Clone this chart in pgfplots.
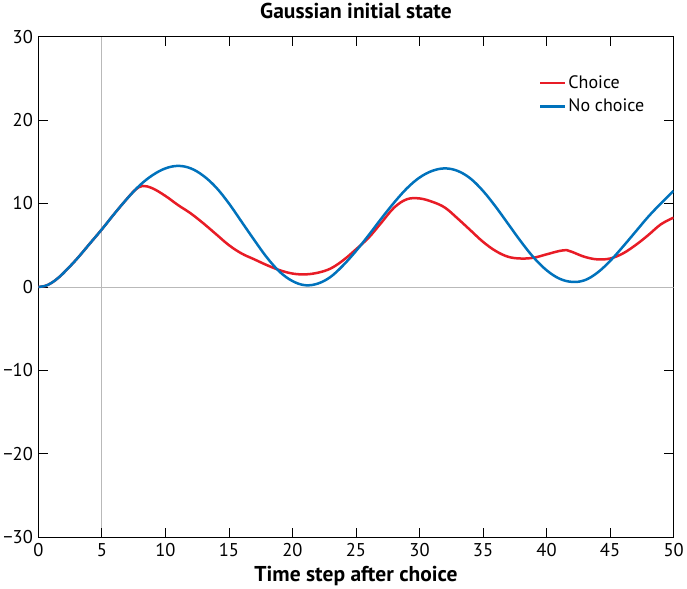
\documentclass[border=0pt]{standalone}
\usepackage{pgfplots}
\pgfplotsset{compat=1.18}
\usepackage{fontspec}
\setmainfont{PT Sans}
\definecolor{chred}{RGB}{232,28,38}
\definecolor{chblue}{RGB}{0,114,188}
\begin{document}
\begin{tikzpicture}
\begin{axis}[
  scale only axis,
  width=633bp,
  height=499bp,
  xmin=0, xmax=50,
  ymin=-30, ymax=30,
  xtick={0,5,...,50},
  ytick={-30,-20,-10,0,10,20,30},
  yticklabels={−30,−20,−10,0,10,20,30},
  xtick pos=both,
  ytick pos=both,
  tick align=inside,
  major tick length=9.5bp,
  tick style={draw=black, line width=0.8pt},
  axis line style={line width=0.9pt},
  ticklabel style={font=\fontsize{18.5}{20}\selectfont},
  /pgf/number format/assume math mode=true,
  xticklabel style={yshift=-3bp},
  yticklabel style={xshift=-2bp},
  title={\bfseries Gaussian initial state},
  title style={font=\fontsize{21.5}{23}\selectfont, yshift=8bp},
  xlabel={\bfseries Time step after choice},
  xlabel style={font=\fontsize{21.5}{23}\selectfont, yshift=-2bp},
  legend style={draw=none, fill=none, at={(0.962,0.93)}, anchor=north east,
    font=\fontsize{18}{20}\selectfont, row sep=5bp},
  legend cell align=left,
  legend image code/.code={\draw[#1] (-10bp,0bp) -- (15bp,0bp);},
  unbounded coords=jump,
]
  % reference lines
  \addplot[gray!55, line width=0.8pt, forget plot] coordinates {(0,0) (50,0)};
  \addplot[gray!55, line width=0.8pt, forget plot] coordinates {(5,-30) (5,30)};

  % tick marks on the bottom and left edges (inside)
  \addplot[black, line width=0.8pt, forget plot] coordinates {
    (5,-30) (5,-28.86) (nan,nan) (10,-30) (10,-28.86) (nan,nan)
    (15,-30) (15,-28.86) (nan,nan) (20,-30) (20,-28.86) (nan,nan)
    (25,-30) (25,-28.86) (nan,nan) (30,-30) (30,-28.86) (nan,nan)
    (35,-30) (35,-28.86) (nan,nan) (40,-30) (40,-28.86) (nan,nan)
    (45,-30) (45,-28.86) (nan,nan)
    (0,-20) (0.75,-20) (nan,nan) (0,-10) (0.75,-10) (nan,nan)
    (0,0) (0.75,0) (nan,nan) (0,10) (0.75,10) (nan,nan)
    (0,20) (0.75,20)
  };

  \addplot[chred, line width=2.5pt, smooth, tension=0.6] coordinates {
    (0,0) (0.5,0.1) (1,0.45) (1.5,1.0) (2,1.7) (3,3.3) (4,5.1) (5,6.9)
    (6,8.8) (7,10.6) (7.6,11.6) (8.2,12.1) (9,11.8) (10,10.9) (11,9.8)
    (12,8.8) (13,7.6) (14,6.3) (15,5.0) (16,4.0) (17,3.3) (18,2.6)
    (19,2.0) (20,1.6) (21,1.5) (22,1.7) (23,2.2) (24,3.2) (25,4.5)
    (26,5.9) (27,7.7) (28,9.5) (29,10.5) (30,10.6) (31,10.2) (32,9.5)
    (33,8.2) (34,6.8) (35,5.4) (36,4.3) (37,3.6) (38,3.4) (39,3.5)
    (40,3.9) (41,4.3) (41.6,4.4) (42,4.2) (43,3.6) (44,3.3) (45,3.4)
    (46,4.0) (47,5.0) (48,6.2) (49,7.5) (50,8.3)
  };
  \addlegendentry{Choice}

  \addplot[chblue, line width=2.5pt, smooth, tension=0.6] coordinates {
    (0,0) (0.5,0.1) (1,0.45) (1.5,1.0) (2,1.7) (3,3.3) (4,5.1) (5,6.9)
    (6,8.8) (7,10.6) (8,12.2) (9,13.4) (10,14.2) (11,14.5) (12,14.2)
    (13,13.3) (14,11.9) (15,10.0) (16,7.8) (17,5.6) (18,3.5) (19,1.8)
    (20,0.7) (21,0.2) (22,0.4) (23,1.2) (24,2.6) (25,4.3) (26,6.2)
    (27,8.2) (28,10.1) (29,11.8) (30,13.1) (31,13.9) (32,14.2) (33,13.9)
    (34,13.0) (35,11.5) (36,9.6) (37,7.5) (38,5.4) (39,3.5) (40,2.0)
    (41,1.0) (42,0.6) (43,0.8) (44,1.7) (45,3.1) (46,4.8) (47,6.6)
    (48,8.4) (49,10.0) (50,11.5)
  };
  \addlegendentry{No choice}
\end{axis}
\end{tikzpicture}
\end{document}
